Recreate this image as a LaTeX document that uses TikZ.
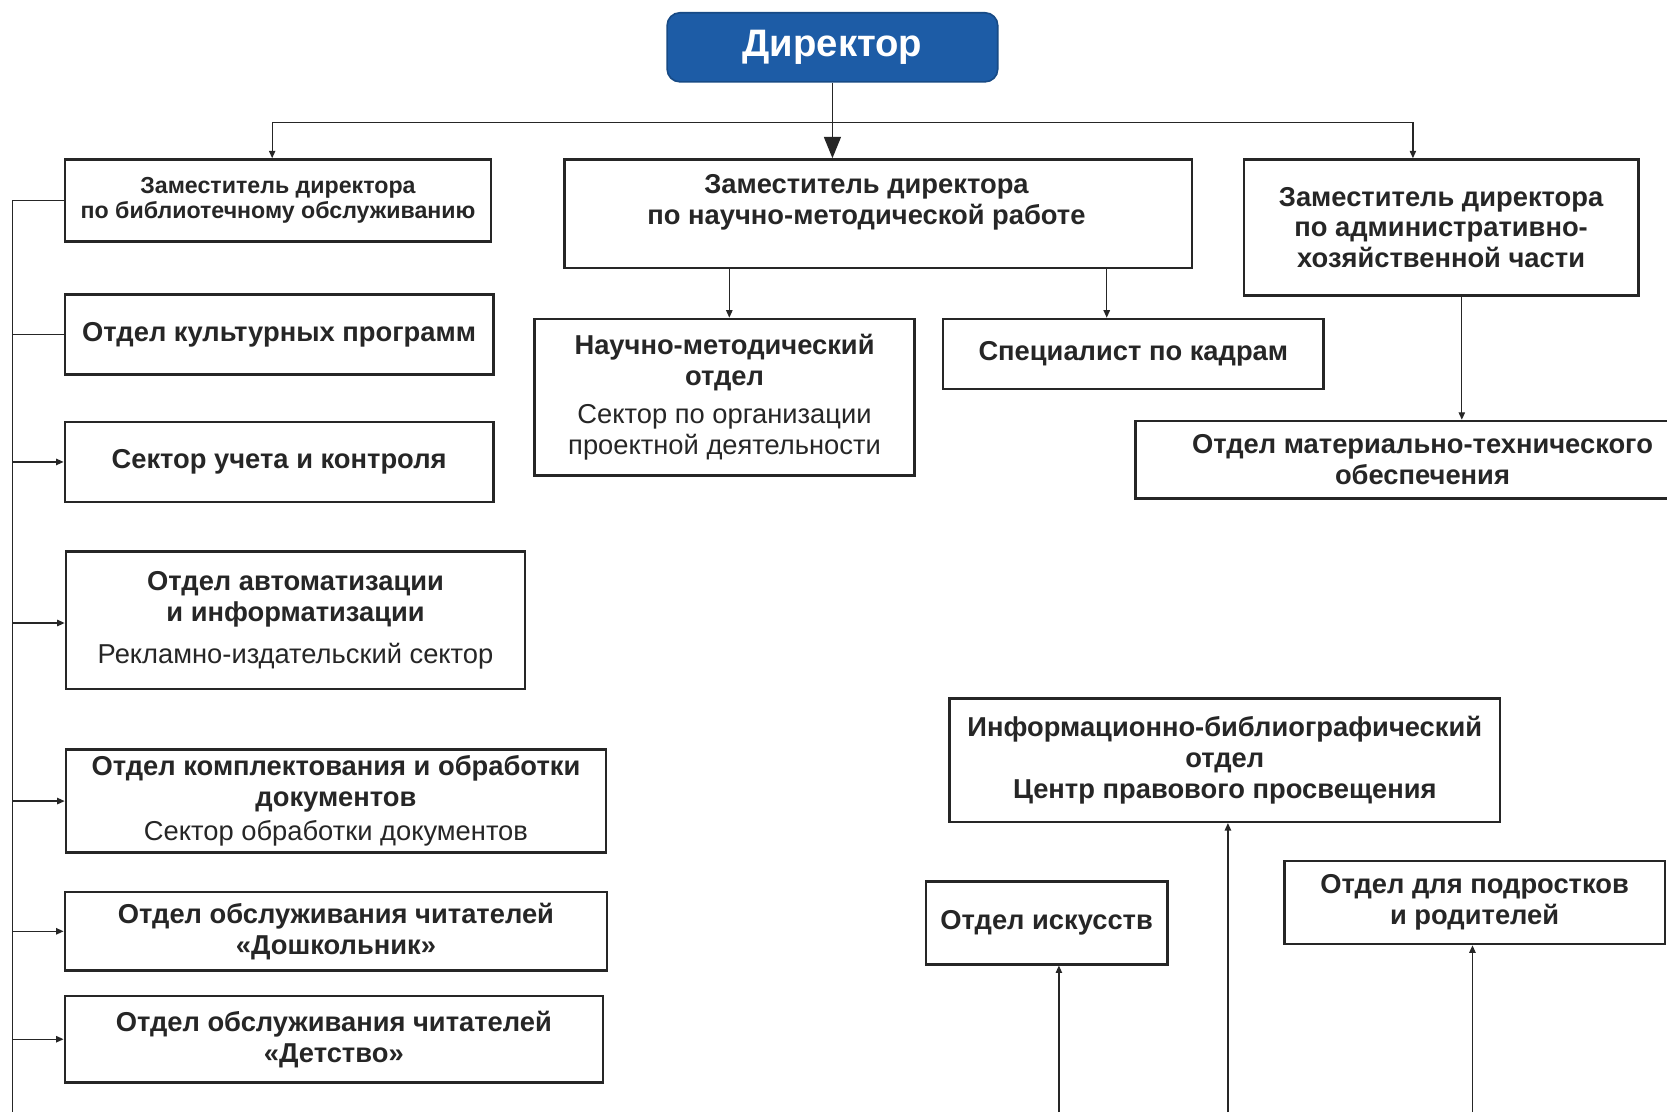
\documentclass[tikz,border=0pt]{standalone}
\usepackage{fontspec}
\setmainfont{Liberation Sans}
\usetikzlibrary{arrows.meta,calc}
\definecolor{ink}{HTML}{262626}
\definecolor{dirblue}{HTML}{1D5CA6}
\newcommand{\fsMain}{\fontsize{25.7}{29}\selectfont}
\newcommand{\fsSmall}{\fontsize{21.8}{24}\selectfont}
\newcommand{\fsMid}{\fontsize{25.7}{28.7}\selectfont}
\tikzset{
  bx/.style={draw=ink, line width=2.4pt, inner sep=0pt, align=center, text=ink, font=\fsMain\bfseries},
  cn/.style={draw=ink, line width=1.2pt},
  cnA/.style={cn, -{Triangle[length=7pt,width=6pt]}},
  cnBig/.style={cn, -{Triangle[length=20pt,width=16pt]}}
}
\begin{document}
\begin{tikzpicture}[x=1pt,y=-1pt]
\useasboundingbox (0,0) rectangle (1568,1046);
\fill[white] (0,0) rectangle (1568,1046);
\clip (0,0) rectangle (1568,1046);

% director
\node[rounded corners=12pt, fill=dirblue, draw=dirblue!80!black, line width=1.5pt,
      minimum width=311pt, minimum height=65pt, inner sep=0pt, text=white,
      font=\fontsize{36}{42}\selectfont\bfseries] (dir) at (783,44.5) {Директор};

% deputies
\node[bx, minimum width=401pt, minimum height=77pt, font=\fsSmall\bfseries] (zam1) at (261.5,188.5)
  {Заместитель директора\\по библиотечному обслуживанию};
\node[bx, minimum width=590pt, minimum height=102pt] (zam2) at (826,201) {};
\node[inner sep=0pt, align=center, text=ink, font=\fsMid\bfseries] (zam2t) at (815,190.5)
  {Заместитель директора\\по научно-методической работе};
\node[bx, minimum width=371pt, minimum height=128pt, font=\fsMid\bfseries] (zam3) at (1355.5,214)
  {Заместитель директора\\по административно-\\хозяйственной части};

% left column
\node[bx, minimum width=403pt, minimum height=75pt] (kult) at (262.5,314.5) {Отдел культурных программ};
\node[bx, minimum width=403pt, minimum height=75pt] (sek) at (262.5,434.5) {Сектор учета и контроля};
\node[bx, minimum width=432pt, minimum height=129pt] (avt) at (278,583.5)
  {Отдел автоматизации\\и информатизации\\[11pt]\textmd{Рекламно-издательский сектор}};
\node[bx, minimum width=508pt, minimum height=97pt] (kompl) at (316,753.5)
  {Отдел комплектования и обработки\\документов\\[3pt]\textmd{Сектор обработки документов}};
\node[bx, minimum width=510pt, minimum height=74pt] (dosh) at (316,876)
  {Отдел обслуживания читателей\\«Дошкольник»};
\node[bx, minimum width=506pt, minimum height=81pt] (det) at (314,977.5)
  {Отдел обслуживания читателей\\«Детство»};

% middle / right
\node[bx, minimum width=357pt, minimum height=147pt] (nm) at (681.5,373.5)
  {Научно-методический\\отдел\\[7pt]\textmd{Сектор по организации}\\\textmd{проектной деятельности}};
\node[bx, minimum width=358pt, minimum height=66pt] (spec) at (1066,333) {Специалист по кадрам};
\node[bx, minimum width=540pt, minimum height=73pt] (mto) at (1338,432.5)
  {Отдел материально-технического\\обеспечения};
\node[bx, minimum width=518pt, minimum height=116pt] (inf) at (1152,715)
  {Информационно-библиографический\\отдел\\Центр правового просвещения};
\node[bx, minimum width=227pt, minimum height=78pt] (isk) at (984.5,868) {Отдел искусств};
\node[bx, minimum width=358pt, minimum height=78pt] (podr) at (1387,849)
  {Отдел для подростков\\и родителей};

% top connectors
\coordinate (bL) at (256,115);
\coordinate (bR) at (1329,115);
\draw[cn] (bL) -- (bR);
\draw[cnBig] (dir.south) -- (dir.south |- zam2.north);
\draw[cnA] (bL) -- (bL |- zam1.north);
\draw[cnA] (bR) -- (bR |- zam3.north);

% deputy 2 children
\coordinate (x1) at (686,0);
\coordinate (x2) at (1041,0);
\draw[cnA] (x1 |- zam2.south) -- (x1 |- nm.north);
\draw[cnA] (x2 |- zam2.south) -- (x2 |- spec.north);
% deputy 3 child
\coordinate (x3) at (1375,0);
\draw[cnA] (x3 |- zam3.south) -- (x3 |- mto.north);

% left bus
\coordinate (lb) at (12,0);
\coordinate (lbEnd) at (12,1046);
\draw[cn] (zam1.west) -- (zam1.west -| lb) -- (lbEnd);
\draw[cn] (kult.west -| lb) -- (kult.west);
\draw[cnA] (sek.west -| lb) -- (sek.west);
\draw[cnA] ($(avt.west -| lb)+(0,2.5)$) -- ($(avt.west)+(0,2.5)$);
\draw[cnA] (kompl.west -| lb) -- (kompl.west);
\draw[cnA] (dosh.west -| lb) -- (dosh.west);
\draw[cnA] (det.west -| lb) -- (det.west);

% bottom up arrows
\coordinate (u1) at (996,1046);
\coordinate (u2) at (1155,1046);
\coordinate (u3) at (1385,1046);
\draw[cnA] (u1) -- (u1 |- isk.south);
\draw[cnA] (u2) -- (u2 |- inf.south);
\draw[cnA] (u3) -- (u3 |- podr.south);
\end{tikzpicture}
\end{document}
